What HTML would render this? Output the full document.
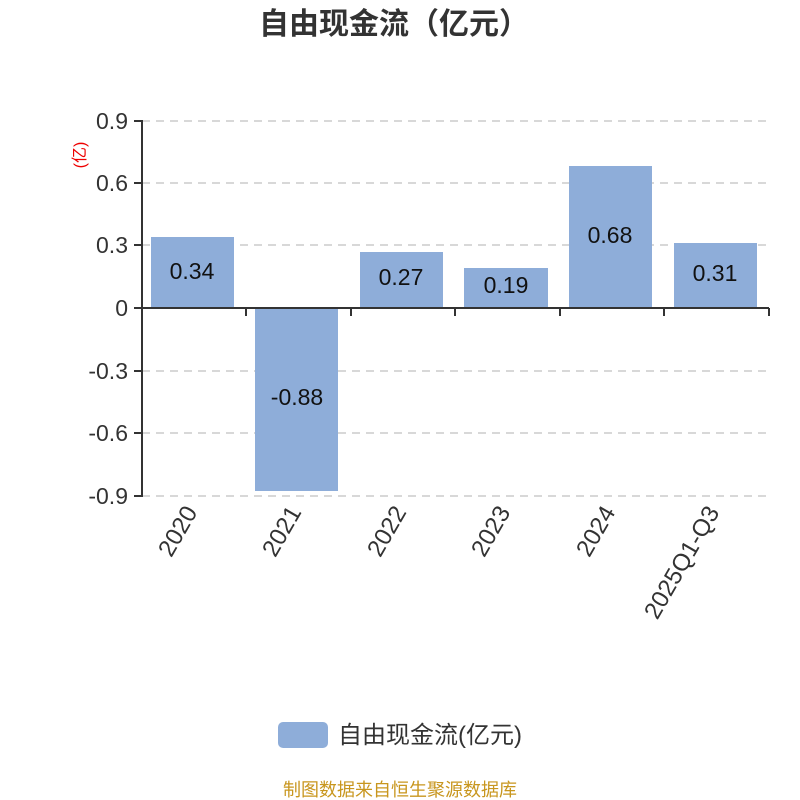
<!DOCTYPE html>
<html><head><meta charset="utf-8"><style>
body{margin:0;background:#fff}
svg{display:block;font-family:"Liberation Sans","Noto Sans CJK SC",sans-serif}
</style></head><body>
<svg width="800" height="800" viewBox="0 0 800 800">
<text x="394" y="34" text-anchor="middle" font-size="30" font-weight="bold" fill="#333">自由现金流（亿元）</text>
<g stroke="#ccc" stroke-width="1.5" stroke-dasharray="8,6">
<line x1="142" y1="121" x2="769" y2="121"/>
<line x1="142" y1="183" x2="769" y2="183"/>
<line x1="142" y1="245" x2="769" y2="245"/>
<line x1="142" y1="371" x2="769" y2="371"/>
<line x1="142" y1="433" x2="769" y2="433"/>
<line x1="142" y1="496" x2="769" y2="496"/>
</g>
<g fill="#8eadd9">
<rect x="151" y="237" width="83" height="71"/>
<rect x="255" y="308" width="83" height="183"/>
<rect x="360" y="252" width="83" height="56"/>
<rect x="464" y="268" width="84" height="40"/>
<rect x="569" y="166" width="83" height="142"/>
<rect x="674" y="243" width="83" height="65"/>
</g>
<g stroke="#333" stroke-width="2">
<line x1="142" y1="120" x2="142" y2="497"/>
<line x1="141" y1="308" x2="769" y2="308"/>
<line x1="134" y1="121" x2="142" y2="121"/>
<line x1="134" y1="183" x2="142" y2="183"/>
<line x1="134" y1="245" x2="142" y2="245"/>
<line x1="134" y1="308" x2="142" y2="308"/>
<line x1="134" y1="371" x2="142" y2="371"/>
<line x1="134" y1="433" x2="142" y2="433"/>
<line x1="134" y1="496" x2="142" y2="496"/>
<line x1="246" y1="308" x2="246" y2="316"/>
<line x1="351" y1="308" x2="351" y2="316"/>
<line x1="455" y1="308" x2="455" y2="316"/>
<line x1="560" y1="308" x2="560" y2="316"/>
<line x1="664" y1="308" x2="664" y2="316"/>
<line x1="769" y1="308" x2="769" y2="316"/>
</g>
<g font-size="23" fill="#333" text-anchor="end">
<text x="128" y="129">0.9</text>
<text x="128" y="191">0.6</text>
<text x="128" y="253">0.3</text>
<text x="128" y="316">0</text>
<text x="128" y="379">-0.3</text>
<text x="128" y="441">-0.6</text>
<text x="128" y="504">-0.9</text>
</g>
<text transform="translate(85,155) rotate(-90)" text-anchor="middle" font-size="16" fill="#e00">(亿)</text>
<g font-size="23" fill="#111" text-anchor="middle">
<text x="192" y="279">0.34</text>
<text x="297" y="405">-0.88</text>
<text x="401" y="285">0.27</text>
<text x="506" y="293">0.19</text>
<text x="610" y="243">0.68</text>
<text x="715" y="281">0.31</text>
</g>
<g font-size="24" fill="#333" text-anchor="end">
<text transform="translate(198,512) rotate(-60)">2020</text>
<text transform="translate(302,512) rotate(-60)">2021</text>
<text transform="translate(407,512) rotate(-60)">2022</text>
<text transform="translate(511,512) rotate(-60)">2023</text>
<text transform="translate(616,512) rotate(-60)">2024</text>
<text transform="translate(720,512) rotate(-60)">2025Q1-Q3</text>
</g>
<rect x="278" y="722" width="50" height="26" rx="5" fill="#8eadd9"/>
<text x="338" y="743" font-size="24" fill="#333">自由现金流(亿元)</text>
<text x="400" y="796" text-anchor="middle" font-size="18" fill="#c8961e">制图数据来自恒生聚源数据库</text>
</svg>
</body></html>
